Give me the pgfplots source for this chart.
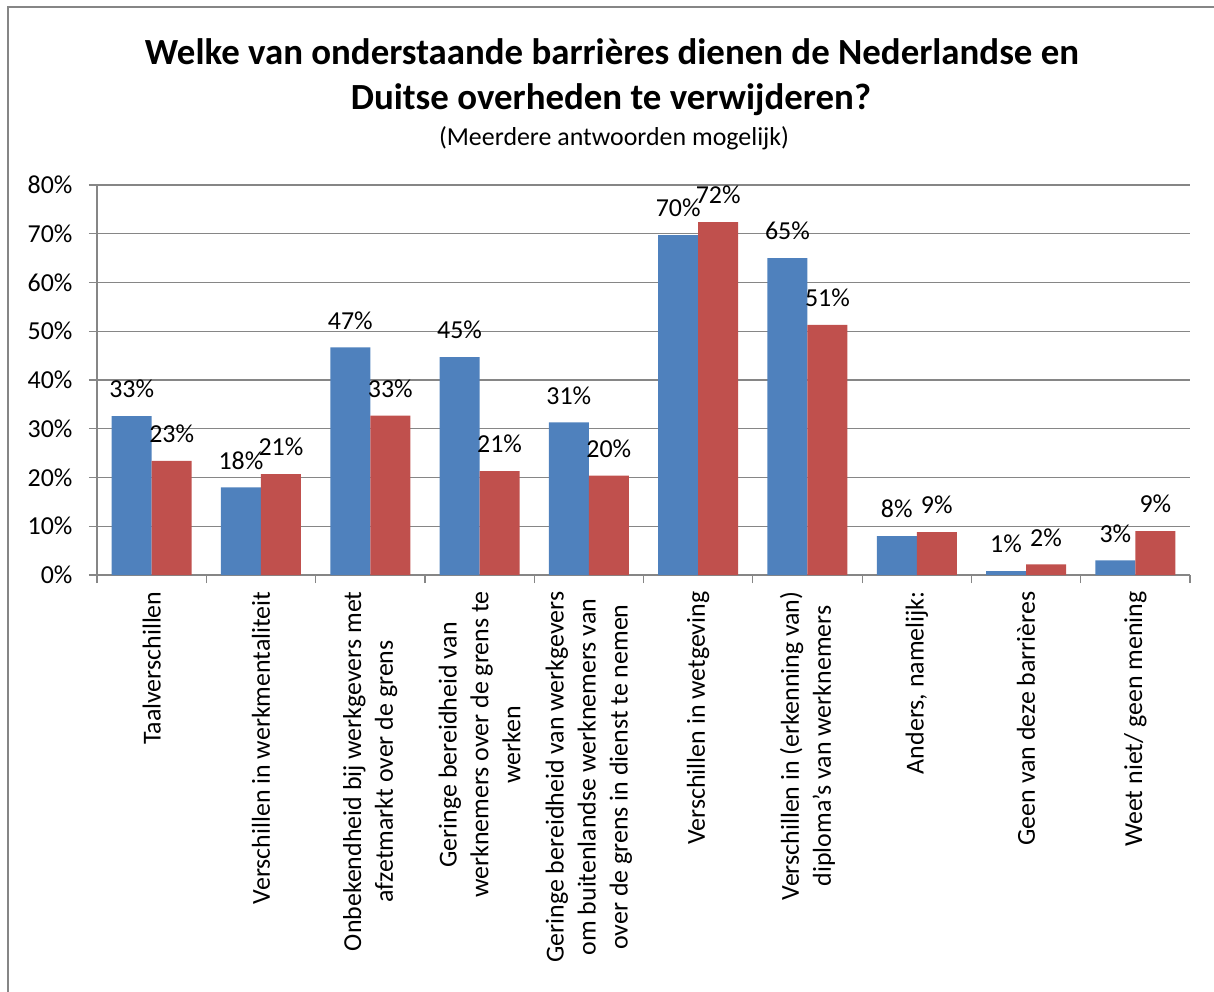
\documentclass[border=0pt]{standalone}
\usepackage{pgfplots}
\pgfplotsset{compat=1.18}
\usepackage{fontspec}
\setmainfont{Carlito}
\definecolor{barblue}{HTML}{4F81BD}
\definecolor{barred}{HTML}{C0504D}
\definecolor{gridgray}{HTML}{868686}
\begin{document}
\begin{tikzpicture}
\useasboundingbox (0bp,0bp) rectangle (1214bp,-992bp);
\draw[gridgray, line width=1.2bp] (8bp,-992bp) -- (8bp,-7bp) -- (1214bp,-7bp);
\node[font=\fontsize{37}{45}\selectfont\bfseries, anchor=base] at (612bp,-64bp) {Welke van onderstaande barrières dienen de Nederlandse en};
\node[font=\fontsize{37}{45}\selectfont\bfseries, anchor=base] at (611bp,-109bp) {Duitse overheden te verwijderen?};
\node[font=\fontsize{26}{32}\selectfont, anchor=base] at (614bp,-145bp) {(Meerdere antwoorden mogelijk)};
\begin{axis}[
  at={(97bp,-575bp)}, anchor=south west,
  scale only axis, width=1093bp, height=390bp,
  xmin=-0.5, xmax=9.5, ymin=0, ymax=80,
  ybar=0pt, bar width=40bp,
  axis x line*=bottom, axis y line*=left,
  axis line style={gridgray, line width=1.2bp},
  ymajorgrids, major grid style={gridgray, line width=1.2bp},
  ytick={0,10,...,80},
  yticklabel={\pgfmathprintnumber{\tick}\%},
  /pgf/number format/assume math mode=true,
  tick style={gridgray, line width=1.2bp},
  major tick length=8bp,
  tick align=outside,
  xtick={-0.5,0.5,...,9.5},
  xticklabels={},
  extra x ticks={0,1,2,3,4,5,6,7,8,9},
  extra x tick style={major tick length=0pt},
  extra x tick labels={
    Taalverschillen,
    Verschillen in werkmentaliteit,
    {Onbekendheid bij werkgevers met\\afzetmarkt over de grens},
    {Geringe bereidheid van\\werknemers over de grens te\\werken},
    {Geringe bereidheid van werkgevers\\om buitenlandse werknemers van\\over de grens in dienst te nemen},
    Verschillen in wetgeving,
    {Verschillen in (erkenning van)\\diploma’s van werknemers},
    {Anders, namelijk:},
    Geen van deze barrières,
    Weet niet/ geen mening},
  xticklabel shift=13bp,
  yticklabel shift=13bp,
  xticklabel style={rotate=90, anchor=east, align=center, font=\fontsize{26}{32}\selectfont, text=black},
  yticklabel style={font=\fontsize{26}{32}\selectfont, text=black},
  nodes near coords={\pgfmathprintnumber[fixed,precision=0]{\pgfplotspointmeta}\%},
  every node near coord/.append style={anchor=center, yshift=27bp, font=\fontsize{26}{32}\selectfont, text=black},
  clip=false,
]
\addplot[fill=barblue, draw=none] coordinates {(0,32.6) (1,18.0) (2,46.7) (3,44.7) (4,31.3) (5,69.7) (6,65.0) (7,8.0) (8,0.8) (9,3.0)};
\addplot[fill=barred, draw=none] coordinates {(0,23.4) (1,20.7) (2,32.7) (3,21.3) (4,20.4) (5,72.4) (6,51.3) (7,8.8) (8,2.2) (9,9.0)};
\end{axis}
\end{tikzpicture}
\end{document}
